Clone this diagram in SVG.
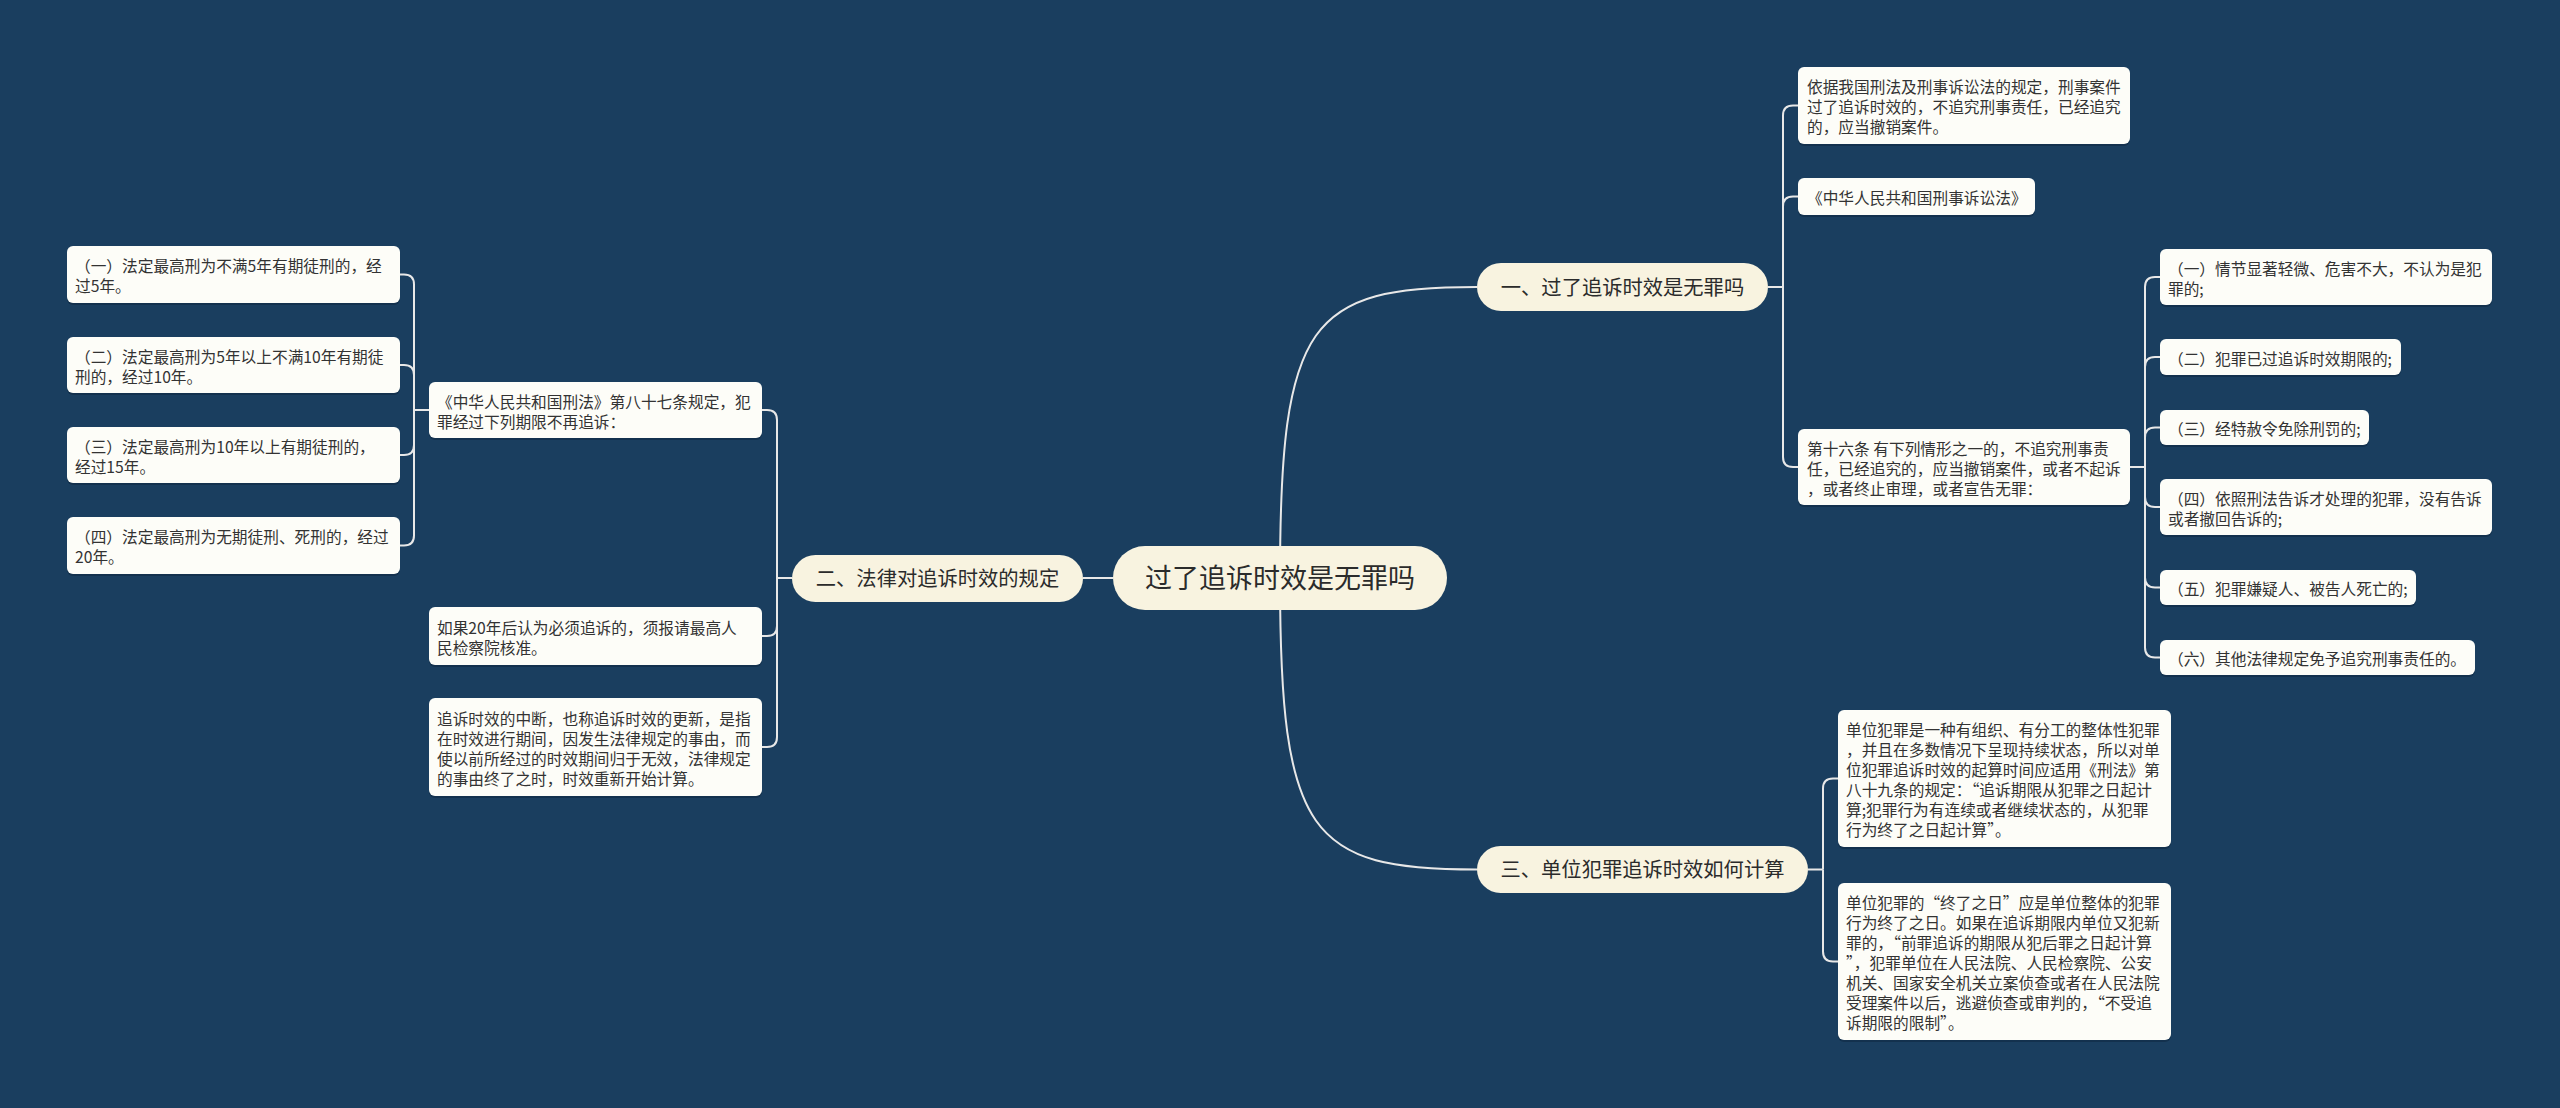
<svg xmlns="http://www.w3.org/2000/svg" width="2560" height="1108" viewBox="0 0 2560 1108">
<style>
.bg{fill:#1a3e5f}
.lf{fill:#fdfdf8}
.sh{fill:#0f2a42;opacity:0.6}
.br{fill:#f8f3e0}
.t{font-family:"Noto Sans CJK SC","Noto Sans",sans-serif;fill:#333333;font-size:15.7px}
.tb{font-family:"Noto Sans CJK SC","Noto Sans",sans-serif;fill:#2b2b2b;font-size:20.3px;text-anchor:middle}
.tr{font-family:"Noto Sans CJK SC","Noto Sans",sans-serif;fill:#2b2b2b;font-size:27px;text-anchor:middle}
.c{fill:none;stroke:#e8e8e8;stroke-width:2}
</style>
<rect class="bg" x="0" y="0" width="2560" height="1108"/>
<g id="connectors">
<path class="c" d="M1280,578 C1280,320 1310,287 1477,287"/>
<path class="c" d="M1280,578 C1280,836 1310,869.5 1477,869.5"/>
<path class="c" d="M1113,578 L1083,578"/>
<path class="c" d="M1768,287 L1783,287"/>
<path class="c" d="M1783,287 L1783,115.5 Q1783,105.5 1793,105.5 L1798,105.5"/>
<path class="c" d="M1783,287 L1783,206.5 Q1783,196.5 1793,196.5 L1798,196.5"/>
<path class="c" d="M1783,287 L1783,457 Q1783,467 1793,467 L1798,467"/>
<path class="c" d="M2130,467 L2145,467"/>
<path class="c" d="M2145,467 L2145,287 Q2145,277 2155,277 L2160,277"/>
<path class="c" d="M2145,467 L2145,367 Q2145,357 2155,357 L2160,357"/>
<path class="c" d="M2145,467 L2145,437.5 Q2145,427.5 2155,427.5 L2160,427.5"/>
<path class="c" d="M2145,467 L2145,497 Q2145,507 2155,507 L2160,507"/>
<path class="c" d="M2145,467 L2145,577.5 Q2145,587.5 2155,587.5 L2160,587.5"/>
<path class="c" d="M2145,467 L2145,647.5 Q2145,657.5 2155,657.5 L2160,657.5"/>
<path class="c" d="M792,578 L777,578"/>
<path class="c" d="M777,578 L777,420 Q777,410 767,410 L762,410"/>
<path class="c" d="M777,578 L777,626 Q777,636 767,636 L762,636"/>
<path class="c" d="M777,578 L777,737 Q777,747 767,747 L762,747"/>
<path class="c" d="M429,410 L414,410"/>
<path class="c" d="M414,410 L414,284.5 Q414,274.5 404,274.5 L400,274.5"/>
<path class="c" d="M414,410 L414,375 Q414,365 404,365 L400,365"/>
<path class="c" d="M414,410 L414,445 Q414,455 404,455 L400,455"/>
<path class="c" d="M414,410 L414,535.5 Q414,545.5 404,545.5 L400,545.5"/>
<path class="c" d="M1808,869.5 L1823,869.5"/>
<path class="c" d="M1823,869.5 L1823,788.5 Q1823,778.5 1833,778.5 L1838,778.5"/>
<path class="c" d="M1823,869.5 L1823,951.5 Q1823,961.5 1833,961.5 L1838,961.5"/>
</g>
<g id="root">
<rect class="br" x="1113" y="546" width="334" height="64" rx="32"/>
<text class="tr" x="1280" y="587.5">过了追诉时效是无罪吗</text>
</g>
<g id="branch1">
<rect class="br" x="1477" y="263" width="291" height="48" rx="24"/>
<text class="tb" x="1622.5" y="294.5">一、过了追诉时效是无罪吗</text>
</g>
<g id="branch2">
<rect class="br" x="792" y="555" width="291" height="47" rx="23.5"/>
<text class="tb" x="937.5" y="586">二、法律对追诉时效的规定</text>
</g>
<g id="branch3">
<rect class="br" x="1477" y="846" width="331" height="47" rx="23.5"/>
<text class="tb" x="1642.5" y="877">三、单位犯罪追诉时效如何计算</text>
</g>
<g id="a1">
<rect class="sh" x="1798" y="69" width="332" height="77" rx="6"/>
<rect class="lf" x="1798" y="67" width="332" height="77" rx="6"/>
<text class="t"><tspan x="1807" y="93">依据我国刑法及刑事诉讼法的规定，刑事案件</tspan><tspan x="1807" y="113">过了追诉时效的，不追究刑事责任，已经追究</tspan><tspan x="1807" y="133">的，应当撤销案件。</tspan></text>
</g>
<g id="a2">
<rect class="sh" x="1798" y="180" width="237" height="37" rx="6"/>
<rect class="lf" x="1798" y="178" width="237" height="37" rx="6"/>
<text class="t" x="1807" y="204">《中华人民共和国刑事诉讼法》</text>
</g>
<g id="a3">
<rect class="sh" x="1798" y="431" width="332" height="76" rx="6"/>
<rect class="lf" x="1798" y="429" width="332" height="76" rx="6"/>
<text class="t"><tspan x="1807" y="454.5">第十六条 有下列情形之一的，不追究刑事责</tspan><tspan x="1807" y="474.5">任，已经追究的，应当撤销案件，或者不起诉</tspan><tspan x="1807" y="494.5">，或者终止审理，或者宣告无罪：</tspan></text>
</g>
<g id="c1">
<rect class="sh" x="2160" y="251" width="332" height="56" rx="6"/>
<rect class="lf" x="2160" y="249" width="332" height="56" rx="6"/>
<text class="t"><tspan x="2168" y="274.5">（一）情节显著轻微、危害不大，不认为是犯</tspan><tspan x="2168" y="294.5">罪的;</tspan></text>
</g>
<g id="c2">
<rect class="sh" x="2160" y="341" width="241" height="36" rx="6"/>
<rect class="lf" x="2160" y="339" width="241" height="36" rx="6"/>
<text class="t" x="2168" y="364.5">（二）犯罪已过追诉时效期限的;</text>
</g>
<g id="c3">
<rect class="sh" x="2160" y="412" width="209" height="35" rx="6"/>
<rect class="lf" x="2160" y="410" width="209" height="35" rx="6"/>
<text class="t" x="2168" y="435">（三）经特赦令免除刑罚的;</text>
</g>
<g id="c4">
<rect class="sh" x="2160" y="481" width="332" height="56" rx="6"/>
<rect class="lf" x="2160" y="479" width="332" height="56" rx="6"/>
<text class="t"><tspan x="2168" y="504.5">（四）依照刑法告诉才处理的犯罪，没有告诉</tspan><tspan x="2168" y="524.5">或者撤回告诉的;</tspan></text>
</g>
<g id="c5">
<rect class="sh" x="2160" y="572" width="256" height="35" rx="6"/>
<rect class="lf" x="2160" y="570" width="256" height="35" rx="6"/>
<text class="t" x="2168" y="595">（五）犯罪嫌疑人、被告人死亡的;</text>
</g>
<g id="c6">
<rect class="sh" x="2160" y="642" width="315" height="35" rx="6"/>
<rect class="lf" x="2160" y="640" width="315" height="35" rx="6"/>
<text class="t" x="2168" y="665">（六）其他法律规定免予追究刑事责任的。</text>
</g>
<g id="b1">
<rect class="sh" x="429" y="384" width="333" height="56" rx="6"/>
<rect class="lf" x="429" y="382" width="333" height="56" rx="6"/>
<text class="t"><tspan x="437" y="407.5">《中华人民共和国刑法》第八十七条规定，犯</tspan><tspan x="437" y="427.5">罪经过下列期限不再追诉：</tspan></text>
</g>
<g id="b2">
<rect class="sh" x="429" y="609" width="333" height="58" rx="6"/>
<rect class="lf" x="429" y="607" width="333" height="58" rx="6"/>
<text class="t"><tspan x="437" y="633.5">如果20年后认为必须追诉的，须报请最高人</tspan><tspan x="437" y="653.5">民检察院核准。</tspan></text>
</g>
<g id="b3">
<rect class="sh" x="429" y="700" width="333" height="98" rx="6"/>
<rect class="lf" x="429" y="698" width="333" height="98" rx="6"/>
<text class="t"><tspan x="437" y="724.5">追诉时效的中断，也称追诉时效的更新，是指</tspan><tspan x="437" y="744.5">在时效进行期间，因发生法律规定的事由，而</tspan><tspan x="437" y="764.5">使以前所经过的时效期间归于无效，法律规定</tspan><tspan x="437" y="784.5">的事由终了之时，时效重新开始计算。</tspan></text>
</g>
<g id="d1">
<rect class="sh" x="67" y="248" width="333" height="57" rx="6"/>
<rect class="lf" x="67" y="246" width="333" height="57" rx="6"/>
<text class="t"><tspan x="75" y="272">（一）法定最高刑为不满5年有期徒刑的，经</tspan><tspan x="75" y="292">过5年。</tspan></text>
</g>
<g id="d2">
<rect class="sh" x="67" y="339" width="333" height="56" rx="6"/>
<rect class="lf" x="67" y="337" width="333" height="56" rx="6"/>
<text class="t"><tspan x="75" y="362.5">（二）法定最高刑为5年以上不满10年有期徒</tspan><tspan x="75" y="382.5">刑的，经过10年。</tspan></text>
</g>
<g id="d3">
<rect class="sh" x="67" y="429" width="333" height="56" rx="6"/>
<rect class="lf" x="67" y="427" width="333" height="56" rx="6"/>
<text class="t"><tspan x="75" y="452.5">（三）法定最高刑为10年以上有期徒刑的，</tspan><tspan x="75" y="472.5">经过15年。</tspan></text>
</g>
<g id="d4">
<rect class="sh" x="67" y="519" width="333" height="57" rx="6"/>
<rect class="lf" x="67" y="517" width="333" height="57" rx="6"/>
<text class="t"><tspan x="75" y="543">（四）法定最高刑为无期徒刑、死刑的，经过</tspan><tspan x="75" y="563">20年。</tspan></text>
</g>
<g id="e1">
<rect class="sh" x="1838" y="712" width="333" height="137" rx="6"/>
<rect class="lf" x="1838" y="710" width="333" height="137" rx="6"/>
<text class="t"><tspan x="1846" y="736">单位犯罪是一种有组织、有分工的整体性犯罪</tspan><tspan x="1846" y="756">，并且在多数情况下呈现持续状态，所以对单</tspan><tspan x="1846" y="776">位犯罪追诉时效的起算时间应适用《刑法》第</tspan><tspan x="1846" y="796">八十九条的规定：“追诉期限从犯罪之日起计</tspan><tspan x="1846" y="816">算;犯罪行为有连续或者继续状态的，从犯罪</tspan><tspan x="1846" y="836">行为终了之日起计算”。</tspan></text>
</g>
<g id="e2">
<rect class="sh" x="1838" y="885" width="333" height="157" rx="6"/>
<rect class="lf" x="1838" y="883" width="333" height="157" rx="6"/>
<text class="t"><tspan x="1846" y="909">单位犯罪的“终了之日”应是单位整体的犯罪</tspan><tspan x="1846" y="929">行为终了之日。如果在追诉期限内单位又犯新</tspan><tspan x="1846" y="949">罪的，“前罪追诉的期限从犯后罪之日起计算</tspan><tspan x="1846" y="969">”，犯罪单位在人民法院、人民检察院、公安</tspan><tspan x="1846" y="989">机关、国家安全机关立案侦查或者在人民法院</tspan><tspan x="1846" y="1009">受理案件以后，逃避侦查或审判的，“不受追</tspan><tspan x="1846" y="1029">诉期限的限制”。</tspan></text>
</g>
</svg>
